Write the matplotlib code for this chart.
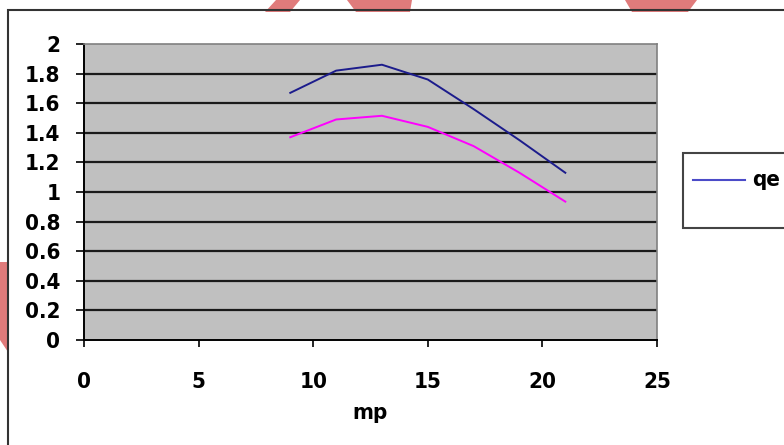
import matplotlib
matplotlib.use("Agg")
import matplotlib.pyplot as plt
from matplotlib.patches import Rectangle, Polygon
from matplotlib.lines import Line2D
from matplotlib import font_manager

# ---- data ----
mp = [9, 11, 13, 15, 17, 19, 21]
series_blue = [1.67, 1.82, 1.86, 1.76, 1.56, 1.35, 1.13]
series_magenta = [1.37, 1.49, 1.515, 1.44, 1.31, 1.13, 0.935]
legend_label = "qe"
x_ticks = [0, 5, 10, 15, 20, 25]
y_ticks = [0, 0.2, 0.4, 0.6, 0.8, 1, 1.2, 1.4, 1.6, 1.8, 2]
y_tick_labels = ["0", "0.2", "0.4", "0.6", "0.8", "1", "1.2", "1.4", "1.6", "1.8", "2"]
x_label = "mp"

W, H = 784, 445
fig = plt.figure(figsize=(W / 100, H / 100), dpi=100)
fig.patch.set_facecolor("white")

# pick a narrow bold font if available
fp = font_manager.FontProperties(family="DejaVu Sans", weight="bold", stretch="condensed", size=16)
for cand in ["Liberation Sans Narrow", "Arial Narrow"]:
    try:
        path = font_manager.findfont(font_manager.FontProperties(family=cand, weight="bold"),
                                     fallback_to_default=False)
        fp = font_manager.FontProperties(fname=path, size=16)
        break
    except Exception:
        pass

def fx(px):
    return px / W

def fy(py):
    return 1 - py / H

ax = fig.add_axes([fx(84), fy(340), fx(657) - fx(84), fy(44) - fy(340)])
ax.set_facecolor("#c0c0c0")
ax.set_xlim(0, 25)
ax.set_ylim(0, 2)

for yv in y_ticks[1:-1]:
    ax.axhline(yv, color="#1a1a1a", lw=1.6, zorder=1)

ax.plot(mp, series_blue, color="#1c1c8c", lw=1.4, zorder=3)
ax.plot(mp, series_magenta, color="#ff00ff", lw=1.4, zorder=3)

for s in ["top", "right"]:
    ax.spines[s].set_color("#808080")
    ax.spines[s].set_linewidth(1.2)
for s in ["left", "bottom"]:
    ax.spines[s].set_color("#000000")
    ax.spines[s].set_linewidth(1.4)

ax.set_xticks(x_ticks)
ax.set_xticklabels([str(t) for t in x_ticks], fontproperties=fp)
ax.set_yticks(y_ticks)
ax.set_yticklabels(y_tick_labels, fontproperties=fp)
ax.tick_params(axis="y", direction="out", length=6, width=1.2, pad=11, color="black")
ax.tick_params(axis="x", direction="out", length=5, width=1.2, pad=18, color="black")
ax.set_xlabel(x_label, fontproperties=fp, labelpad=8)

# outer chart border
fig.patches.append(Rectangle((fx(8), fy(450)), fx(820) - fx(8), fy(10) - fy(450),
                             transform=fig.transFigure, fill=False,
                             edgecolor="#333333", lw=1.5, zorder=5))

# legend box (partially cut off)
fig.patches.append(Rectangle((fx(683), fy(228)), fx(820) - fx(683), fy(153) - fy(228),
                             transform=fig.transFigure, facecolor="white",
                             edgecolor="#444444", lw=1.5, zorder=5))
fig.lines.append(Line2D([fx(693), fx(745)], [fy(180), fy(180)],
                        transform=fig.transFigure, color="#4b4bc8", lw=1.5, zorder=6))
fig.text(fx(752), fy(180), legend_label, va="center", ha="left", zorder=6, fontproperties=fp)

# pink watermark fragments
wm = "#e07b7b"
shapes = [
    [(276, 0), (300, 0), (290, 12), (265, 12)],
    [(347, 0), (412, 0), (410, 12), (356, 12)],
    [(625, 0), (697, 0), (688, 12), (632, 12)],
    [(0, 262), (8, 262), (8, 352), (0, 340)],
]
for pts in shapes:
    fig.patches.append(Polygon([(fx(a), fy(b)) for a, b in pts], closed=True,
                               transform=fig.transFigure, facecolor=wm,
                               edgecolor="none", zorder=4))

fig.savefig("out.png", dpi=100)
